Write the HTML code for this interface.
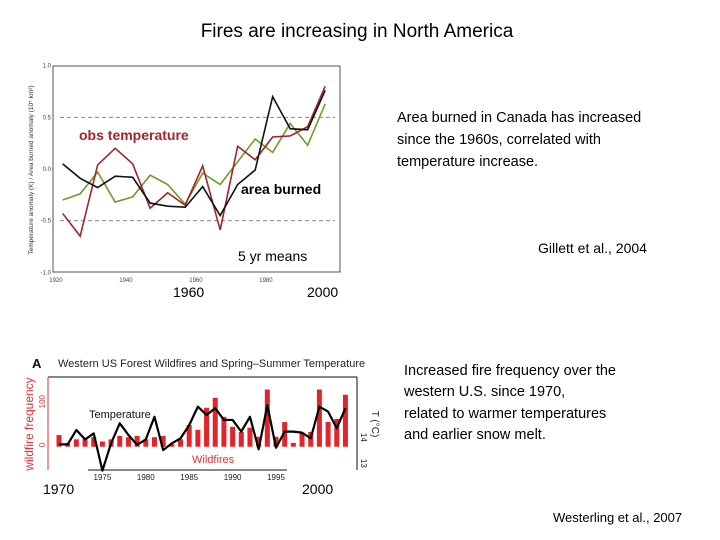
<!DOCTYPE html>
<html><head><meta charset="utf-8"><style>
html,body{margin:0;padding:0;background:#fff}
svg{display:block;font-family:"Liberation Sans",sans-serif}
</style></head><body>
<svg id="s" width="720" height="540" viewBox="0 0 720 540" xmlns="http://www.w3.org/2000/svg">
<text x="357" y="37" font-size="19" text-anchor="middle" fill="#000">Fires are increasing in North America</text>

<g id="c1">
<rect x="53" y="66" width="287" height="206" fill="none" stroke="#555" stroke-width="1"/>
<text transform="translate(33,170) rotate(-90)" font-size="6.5" text-anchor="middle" fill="#333">Temperature anomaly (K) / Area burned anomaly (10⁵ km²)</text>
<g id="c1grid"></g>
<g id="c1ticks" font-size="6" fill="#444"></g>
<g id="c1lines"></g>
<text x="79" y="140" font-size="14" font-weight="bold" fill="#a0262b">obs temperature</text>
<text x="241" y="194" font-size="14" font-weight="bold" fill="#000">area burned</text>
<text x="238" y="261" font-size="14" fill="#000">5 yr means</text>
<text x="173" y="297" font-size="14" fill="#000">1960</text>
<text x="307" y="297" font-size="14" fill="#000">2000</text>
</g>

<text font-size="14.5" fill="#000"><tspan x="397" y="122">Area burned in Canada has increased</tspan><tspan x="397" y="144">since the 1960s, correlated with</tspan><tspan x="397" y="166">temperature increase.</tspan></text>
<text x="538" y="253" font-size="14" fill="#000">Gillett et al., 2004</text>

<g id="c2">
<text x="32" y="368" font-size="13" font-weight="bold" fill="#111">A</text>
<text x="58" y="367" font-size="11" fill="#222">Western US Forest Wildfires and Spring–Summer Temperature</text>
<line x1="48" y1="377" x2="357" y2="377" stroke="#111"/>
<line x1="48" y1="377" x2="48" y2="470" stroke="#d33"/>
<line x1="357" y1="377" x2="357" y2="470" stroke="#111"/>
<line x1="88" y1="470" x2="287" y2="470" stroke="#111"/>
<text transform="translate(33,424) rotate(-90)" font-size="12" text-anchor="middle" fill="#d33">wildfire frequency</text>
<text transform="translate(372,424) rotate(90)" font-size="10" text-anchor="middle" fill="#222">T (°C)</text>
<g id="c2ticks" font-size="8"></g>
<g id="c2bars"></g>
<g id="c2line"></g>
<text x="89" y="418" font-size="11" fill="#111">Temperature</text>
<text x="192" y="463" font-size="11" fill="#d33">Wildfires</text>
<text x="43" y="494" font-size="14" fill="#000">1970</text>
<text x="302" y="494" font-size="14" fill="#000">2000</text>
</g>

<text font-size="14.5" fill="#000"><tspan x="404" y="375">Increased fire frequency over the</tspan><tspan x="404" y="396">western U.S. since 1970,</tspan><tspan x="404" y="418">related to warmer temperatures</tspan><tspan x="404" y="439">and earlier snow melt.</tspan></text>
<text x="553" y="522" font-size="13" fill="#000">Westerling et al., 2007</text>
</svg>
<script>
const NS="http://www.w3.org/2000/svg";
// Chart 1 data
const c1Years=[1922.5,1927.5,1932.5,1937.5,1942.5,1947.5,1952.5,1957.5,1962.5,1967.5,1972.5,1977.5,1982.5,1987.5,1992.5,1997.5];
const areaBurned=[0.05,-0.09,-0.18,-0.07,-0.08,-0.33,-0.36,-0.37,-0.17,-0.45,-0.15,-0.01,0.70,0.39,0.38,0.76];
const obsTemp=[-0.43,-0.65,0.04,0.20,0.05,-0.38,-0.23,-0.35,0.03,-0.59,0.22,0.09,0.31,0.32,0.41,0.80];
const modelTemp=[-0.30,-0.24,-0.03,-0.32,-0.27,-0.06,-0.15,-0.34,-0.04,-0.15,0.07,0.29,0.16,0.44,0.23,0.63];
const c1YTicks=[1.0,0.5,0.0,-0.5,-1.0];
const c1XTicks=[1920,1940,1960,1980];
// Chart 2 data
const c2Years=[1970,1971,1972,1973,1974,1975,1976,1977,1978,1979,1980,1981,1982,1983,1984,1985,1986,1987,1988,1989,1990,1991,1992,1993,1994,1995,1996,1997,1998,1999,2000,2001,2002,2003];
const wildfires=[23,4,13,13,18,8,13,21,18,21,13,18,21,2,13,46,35,86,109,65,42,30,40,19,128,19,53,5,28,30,128,53,60,116];
const tempYears=[1970,1971,1972,1973,1974,1975,1976,1977,1978,1979,1980,1981,1982,1983,1984,1985,1986,1987,1988,1989,1990,1991,1992,1993,1994,1995,1996,1997,1998,1999,2000,2001,2002,2003];
const springTemp=[13.73,13.73,14.28,13.92,14.15,12.72,13.77,14.54,14.09,13.71,13.92,14.79,13.51,13.77,13.96,14.47,15.18,14.86,15.12,14.67,14.67,14.22,14.79,13.54,15.24,13.6,14.22,14.22,14.18,13.96,15.18,14.99,14.35,15.12];
const c2XTicks=[1975,1980,1985,1990,1995];
const c2YTicks=[0,100];
const c2TTicks=[13,14];

const x1=y=>20+(128+(y-1922.5)/5*52.5)/3;
const y1=v=>60+(327-v*310)/3;
const x2=y=>59+(y-1970)*8.68;
const y2=v=>350+(285-v*1.3)/3;
const t2=t=>350+(262-(t-14)*78)/3;
function mk(tag,attrs,parent){const e=document.createElementNS(NS,tag);for(const k in attrs)e.setAttribute(k,attrs[k]);parent.appendChild(e);return e;}

const g1=document.getElementById('c1grid');
[0.5,-0.5].forEach(v=>{const l=mk('line',{x1:60,x2:335,y1:y1(v),y2:y1(v),stroke:'#888','stroke-dasharray':'4,3','stroke-width':1},g1);

});
const tk1=document.getElementById('c1ticks');
c1YTicks.forEach(v=>{const t=mk('text',{x:51,y:y1(v)+2,'text-anchor':'end'},tk1);t.textContent=v.toFixed(1);

});
c1XTicks.forEach(v=>{const t=mk('text',{x:x1(v)+2,y:282,'text-anchor':'middle'},tk1);t.textContent=v;

});
const L1=document.getElementById('c1lines');
[[modelTemp,'#6f9a2c','model-temperature-line'],[obsTemp,'#a0262b','obs-temperature-line'],[areaBurned,'#111','area-burned-line']].forEach(([d,c,n])=>{
const p=mk('polyline',{points:d.map((v,i)=>x1(c1Years[i])+','+y1(v)).join(' '),fill:'none',stroke:c,'stroke-width':1.6},L1);

});

const tk2=document.getElementById('c2ticks');
c2YTicks.forEach(v=>{const t=mk('text',{transform:`translate(45,${y2(v)}) rotate(-90)`,'text-anchor':'middle',fill:'#d33'},tk2);t.textContent=v;

});
c2TTicks.forEach(v=>{const t=mk('text',{transform:`translate(361,${t2(v)}) rotate(90)`,'text-anchor':'middle',fill:'#222'},tk2);t.textContent=v;

});
c2XTicks.forEach(v=>{const t=mk('text',{x:x2(v),y:480,'text-anchor':'middle',fill:'#222'},tk2);t.textContent=v;

});
const B=document.getElementById('c2bars');
const base=y2(-4);
wildfires.forEach((v,i)=>{const top=y2(v);const r=mk('rect',{x:x2(c2Years[i])-2.5,y:top,width:5,height:base-top,fill:'#e0262b'},B);

});
const pl=mk('polyline',{points:springTemp.map((v,i)=>x2(tempYears[i])+','+t2(v)).join(' '),fill:'none',stroke:'#000','stroke-width':2.2,'stroke-linejoin':'round'},document.getElementById('c2line'));


</script>
</body></html>
